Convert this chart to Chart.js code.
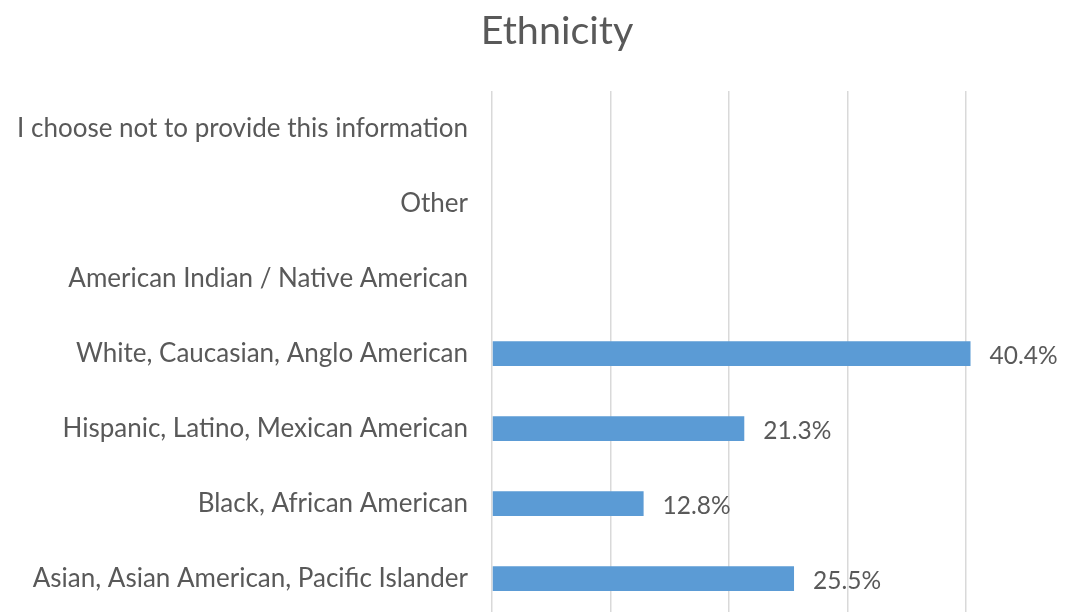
<!DOCTYPE html>
<html>
<head>
<meta charset="utf-8">
<script src="https://cdn.jsdelivr.net/npm/chart.js@4/dist/chart.umd.min.js"></script>
<style>
  html, body { margin: 0; padding: 0; background: #ffffff; overflow: hidden; }
  #wrap { position: relative; width: 1074px; height: 618px; }
</style>
</head>
<body>
<div id="wrap"><canvas id="chart"></canvas></div>
<script>
// Dados do gráfico (de cima para baixo)
const categories = [
    'I choose not to provide this information',
    'Other',
    'American Indian / Native American',
    'White, Caucasian, Anglo American',
    'Hispanic, Latino, Mexican American',
    'Black, African American',
    'Asian, Asian American, Pacific Islander'
];
const percentValues = [null, null, null, 40.4, 21.3, 12.8, 25.5];
const gridTicks = [0, 10, 20, 30, 40];

const textColor = '#595959';
const fontFamily = 'Lato, "Open Sans", sans-serif';

// Rótulos de dados ao lado das barras
const barLabels = {
    id: 'barLabels',
    afterDatasetsDraw(chart) {
        const ctx = chart.ctx;
        const meta = chart.getDatasetMeta(0);
        ctx.save();
        ctx.fillStyle = textColor;
        ctx.font = '24.5px ' + fontFamily;
        ctx.textAlign = 'left';
        ctx.textBaseline = 'middle';
        meta.data.forEach(function(bar, i) {
            const v = percentValues[i];
            if (v === null) return;
            ctx.fillText(v.toFixed(1) + '%', bar.x + 19, bar.y + 3);
        });
        ctx.restore();
    }
};

// O título fica centrado um pouco à direita (como no Excel)
const shiftTitle = {
    id: 'shiftTitle',
    afterLayout(chart) {
        if (chart.titleBlock) chart.titleBlock.left = 89;
    }
};

new Chart(document.getElementById('chart'), {
    type: 'bar',
    data: {
        labels: categories,
        datasets: [{
            data: percentValues,
            backgroundColor: '#5B9BD5',
            borderWidth: 0,
            categoryPercentage: 1,
            barPercentage: 0.33
        }]
    },
    options: {
        indexAxis: 'y',
        responsive: true,
        maintainAspectRatio: false,
        animation: false,
        layout: { padding: { left: 0, right: 49, top: 0, bottom: 2 } },
        scales: {
            x: {
                min: 0,
                max: 45,
                ticks: { display: false, stepSize: 10 },
                border: { display: false },
                grid: {
                    drawTicks: false,
                    lineWidth: 1.5,
                    color: function(c) {
                        return gridTicks.includes(c.tick.value) ? '#D9D9D9' : 'rgba(0,0,0,0)';
                    }
                },
                afterFit: function(scale) { scale.height = 0; }
            },
            y: {
                border: { display: false },
                grid: { display: false, drawTicks: false },
                ticks: {
                    color: textColor,
                    padding: 24,
                    font: { family: fontFamily, size: 26 }
                },
                afterFit: function(scale) {
                    scale.width = 492;
                    scale.paddingTop = 0;
                    scale.paddingBottom = 0;
                }
            }
        },
        plugins: {
            legend: { display: false },
            tooltip: { enabled: false },
            title: {
                display: true,
                text: 'Ethnicity',
                color: textColor,
                font: { family: fontFamily, size: 39.5, weight: 'normal' },
                padding: { top: 8, bottom: 35.6 }
            }
        }
    },
    plugins: [barLabels, shiftTitle]
});
</script>
</body>
</html>
